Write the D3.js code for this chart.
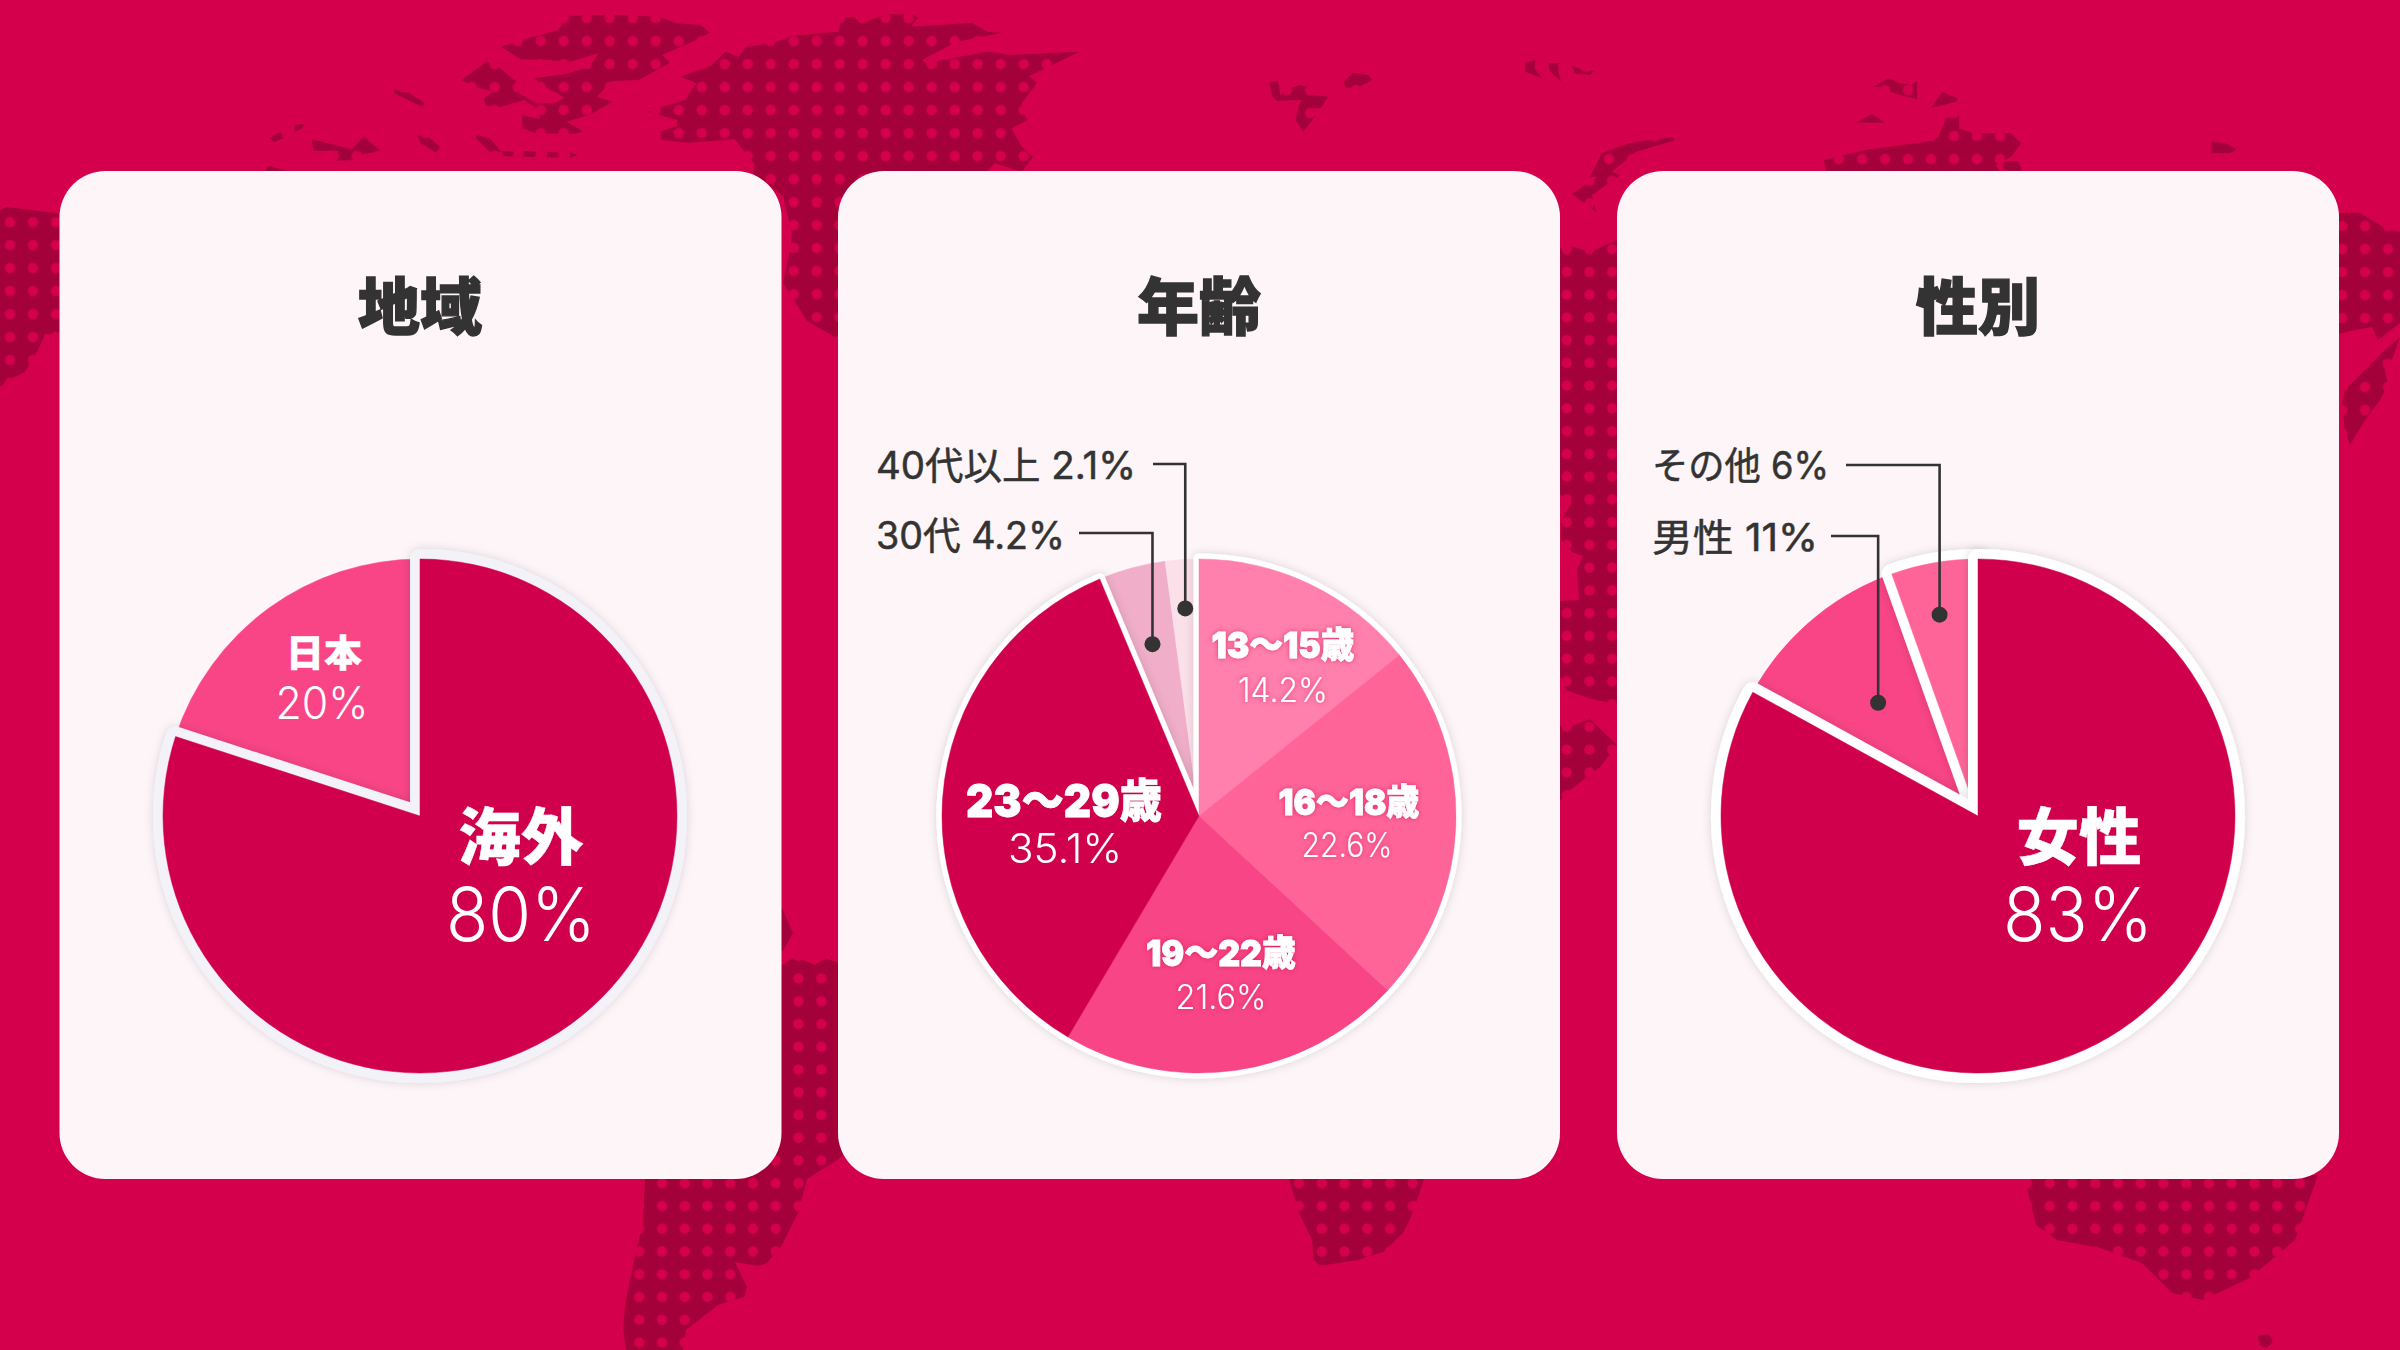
<!DOCTYPE html>
<html lang="ja"><head><meta charset="utf-8">
<script src="https://cdn.jsdelivr.net/npm/d3@7/dist/d3.min.js"></script>
<style>
html,body{margin:0;padding:0;background:#d4004c}
svg{display:block}
text{font-family:"Noto Sans CJK JP","Noto Sans",sans-serif}
text.latin{font-family:Inter,"Noto Sans CJK JP",sans-serif}
</style></head><body><svg id="c" width="2400" height="1350"></svg>
<script>
// ---------- data ----------
const chartTitles = ["地域", "年齢", "性別"];
const regionLabels = ["海外", "日本"];
const regionValues = [80, 20];
const ageLabels = ["13〜15歳", "16〜18歳", "19〜22歳", "23〜29歳", "30代", "40代以上"];
const ageValues = [14.2, 22.6, 21.6, 35.1, 4.2, 2.1];
const genderLabels = ["女性", "男性", "その他"];
const genderValues = [83, 11, 6];

// ---------- styles / layout ----------
const BG = "#d4004c", LAND = "#a40039", PANEL = "#fdf5f8", INK = "#333333";
const regionColors = ["#d1004c", "#f94585"];
const ageColors = ["#ff80ac", "#ff6499", "#f84585", "#d1004c", "#f0aec8", "#fbdfe9"];
const genderColors = ["#d1004c", "#f94585", "#ff6499"];
const panelX = [59.5, 838, 1617], panelW = 722, panelY = 171, panelH = 1008;
const centerX = [420, 1199, 1978], centerY = 816, R = 257;

const charts = [
  {labels: regionLabels, values: regionValues, colors: regionColors, strokeColor: "#f2f2f8", strokeOut: 10, groups: [[0, 0, 0]],
   inside: [
     {i: 0, name: [101, 44, 62, 125], pct: [101, 125, 74, 150]},
     {i: 1, name: [-96, -149, 37, 76], pct: [-98, -97, 45, 93]}]},
  {labels: ageLabels, values: ageValues, colors: ageColors, strokeColor: "#ffffff", strokeOut: 5.5, groups: [[0, 3, 0]], shadow: true,
   inside: [
     {i: 0, name: [84, -158, 36, 143], pct: [84, -114, 34, 90]},
     {i: 1, name: [150, -1, 36, 141], pct: [148, 41, 34, 91]},
     {i: 2, name: [22, 150, 36, 150], pct: [22, 193, 34, 91]},
     {i: 3, name: [-135, 1, 46, 196], pct: [-134, 47, 41, 114]}],
   callouts: [
     {i: 4, r: 178, textX: 876, textY: 549, textW: 189, lineX: 1079, lineY: 533},
     {i: 5, r: 208, textX: 876, textY: 479, textW: 260, lineX: 1153, lineY: 464}]},
  {labels: genderLabels, values: genderValues, colors: genderColors, strokeColor: "#ffffff", strokeOut: 10, groups: [[2, 2, 2], [0, 0, 0]],
   inside: [
     {i: 0, name: [101, 44, 62, 125], pct: [100, 125, 74, 150]}],
   callouts: [
     {i: 1, r: 151, textX: 1652, textY: 551, textW: 166, lineX: 1831, lineY: 536},
     {i: 2, r: 205, textX: 1652, textY: 479, textW: 177, lineX: 1846, lineY: 465}]}
];

// ---------- decorative world map: outlines ----------
const tz = (ox, oy, fx, fy) => pts => pts.map(([x, y]) => [ox + x / fx, oy + y / fy]);
const z7 = tz(0, 0, 1.3067, 3), z6 = tz(1200, 0, 1.3067, 3);
const land = [
  ["top", z7([[740,48],[800,44],[860,50],[885,70],[915,75],[928,98],[905,125],[865,165],[875,188],[835,240],[800,243],[780,290],[800,305],[770,345],[740,365],[763,395],[750,402],[700,400],[683,385],[682,345],[705,358],[705,330],[685,300],[655,320],[635,318],[632,295],[645,275],[622,262],[603,240],[636,185],[650,198],[675,245],[675,275],[700,310],[725,310],[738,292],[712,260],[698,235],[740,222],[770,200],[782,160],[745,185],[715,180],[680,178],[655,140],[690,115],[730,90]])],
  ["top", z7([[515,268],[535,280],[555,310],[553,322],[515,280]])],
  ["top", z7([[385,375],[397,372],[395,385],[385,395]])],
  ["top", z7([[352,415],[367,395],[370,415],[358,427]])],
  ["top", z7([[407,418],[460,448],[475,410],[497,452],[470,465],[460,480],[440,482],[442,452],[410,452]])],
  ["top", z7([[545,405],[562,415],[575,440],[570,458],[550,430]])],
  ["top", z7([[622,405],[640,415],[655,455],[640,455],[622,415]])],
  ["top", z7([[655,453],[672,455],[672,470],[658,468]])],
  ["top", z7([[684,453],[700,455],[700,472],[684,470]])],
  ["top", z7([[715,456],[730,458],[730,473],[715,472]])],
  ["top", z7([[745,458],[755,465],[745,474]])],
  ["top", z7([[345,525],[350,497],[395,525]])],
  ["top", [...z7([[1100,55],[1115,50],[1125,70],[1160,42],[1195,45],[1200,55],[1190,80],[1270,68],[1290,95],[1310,98],[1250,125],[1205,180],[1210,190],[1290,155],[1320,165],[1410,155],[1380,190],[1345,228],[1355,250],[1335,310],[1342,360],[1322,385],[1335,440],[1350,470],[1335,515],[1300,490],[1285,525]]),
     [880,300],[845,343],[807,321],[795,302],[783,283],[790,250],[792,234],[783,196],[775,190],[754,175],
     ...z7([[985,490],[960,418],[900,428],[865,420],[862,395],[885,378],[885,360],[845,335],[895,300],[910,250],[890,230],[930,195],[948,155],[965,170],[975,140],[1010,130],[1035,108],[1095,95]])]],
  ["bot", [[645,1179],[643,1223],[637,1247],[626,1300],[623,1327],[626,1350],[683,1350],[686,1330],[718,1305],[744,1297],[747,1287],[735,1262],[758,1266],[767,1263],[781,1247],[798,1213],[807,1179],[850,1152],[845,965],[825,958],[815,965],[795,957],[782,965],[640,1000]]],
  ["bot", [[660,900],[782,908],[793,933],[783,951],[660,980]]],
  ["bot", tz(560,1100,1.742,3)([[1268,225],[1280,295],[1285,330],[1310,420],[1313,480],[1325,497],[1390,480],[1435,455],[1470,395],[1480,360],[1495,290],[1507,225]])],
  ["bot", [[2024,1175],[2036,1225],[2057,1240],[2100,1248],[2142,1263],[2172,1293],[2203,1300],[2250,1278],[2295,1240],[2318,1175]]],
  ["bot", [[2258,1336],[2268,1334],[2274,1342],[2266,1348],[2258,1344]]],
  ["mid", [[1608,170],[1572,194],[1596,212],[1592,195],[1620,175]]],
  ["mid", [[1540,252],[1570,246],[1590,252],[1617,240],[1640,240],[1640,710],[1617,705],[1585,697],[1566,690],[1561,678],[1540,678],[1540,602],[1579,600],[1577,570],[1583,556],[1572,552],[1561,540],[1561,520],[1572,503],[1561,495],[1540,495]]],
  ["mid", [[1540,724],[1570,727],[1590,719],[1617,745],[1600,767],[1570,790],[1561,800],[1540,800]]],
  ["asia", z6([[90,248],[102,243],[105,285],[118,265],[130,256],[145,262],[148,285],[167,290],[158,325],[148,325],[150,350],[135,395],[125,360],[128,325],[133,300],[100,302],[95,290]])],
  ["asia", z6([[200,218],[220,225],[225,240],[205,265],[190,262],[188,245]])],
  ["asia", z6([[425,190],[438,180],[438,205],[447,235],[425,215]])],
  ["asia", z6([[455,190],[475,188],[468,215],[472,245],[458,215]])],
  ["asia", z6([[485,195],[500,210],[515,212],[510,225],[490,220]])],
  ["asia", z6([[880,260],[900,235],[915,250],[930,255],[937,243],[937,298],[900,275],[895,260]])],
  ["asia", z6([[955,325],[970,277],[990,295],[988,305]])],
  ["asia", z6([[857,368],[878,342],[895,368]])],
  ["asia", z6([[1322,425],[1340,430],[1355,448],[1345,460],[1322,460]])],
  ["asia", z6([[510,530],[525,460],[560,430],[620,410],[622,420],[570,455],[530,530]])],
  ["asia", z6([[815,480],[870,450],[950,425],[965,410],[975,355],[992,348],[992,385],[1010,400],[1060,400],[1073,430],[1060,470],[1040,495],[1050,530],[820,530]])],
  ["asia", z6([[1050,485],[1070,483],[1075,525],[1050,508]])],
  ["left", [[0,210],[7,207],[70,215],[70,335],[45,334],[38,350],[25,372],[8,380],[0,387]]],
  ["right", [[2330,213],[2360,213],[2375,222],[2385,228],[2400,232],[2400,323],[2378,340],[2372,327],[2355,330],[2330,336]]],
  ["right", [[2400,337],[2392,360],[2383,360],[2388,385],[2380,400],[2365,420],[2350,445],[2345,430],[2342,405],[2345,390],[2365,370],[2385,350]]]
];
const gridDefs = {
  top:  {x: 724.7,  y: 41,    s: 23},
  mid:  {x: 1566.7, y: 271.8, s: 22.75},
  bot:  {x: 662,    y: 978.4, s: 22.75},
  asia: {x: 1839,   y: 159,   s: 23},
  left: {x: 10,     y: 222,   s: 23},
  right:{x: 2365,   y: 226,   s: 23}
};

// ---------- drawing ----------
const svg = d3.select("#c");
const defs = svg.append("defs");
Object.entries(gridDefs).forEach(([id, g]) => {
  const p = defs.append("pattern").attr("id", "dots-" + id).attr("patternUnits", "userSpaceOnUse")
    .attr("x", g.x - g.s / 2).attr("y", g.y - g.s / 2).attr("width", g.s).attr("height", g.s);
  p.append("rect").attr("width", g.s).attr("height", g.s).attr("fill", LAND);
  p.append("circle").attr("cx", g.s / 2).attr("cy", g.s / 2).attr("r", 5.2).attr("fill", BG);
});
const soft = defs.append("filter").attr("id", "soft").attr("x", "-20%").attr("y", "-20%").attr("width", "140%").attr("height", "140%");
soft.append("feDropShadow").attr("dx", 0).attr("dy", 0).attr("stdDeviation", 5).attr("flood-color", "#000").attr("flood-opacity", 0.14);
const glow = defs.append("filter").attr("id", "glow").attr("x", "-20%").attr("y", "-40%").attr("width", "140%").attr("height", "180%");
glow.append("feDropShadow").attr("dx", 0).attr("dy", 0).attr("stdDeviation", 2.5).attr("flood-color", "#c8004a").attr("flood-opacity", 0.55);

svg.append("rect").attr("width", 2400).attr("height", 1350).attr("fill", BG);
const landLine = d3.line().curve(d3.curveLinearClosed);
svg.append("g").selectAll("path").data(land).join("path")
  .attr("d", d => landLine(d[1])).attr("fill", d => `url(#dots-${d[0]})`);

svg.append("g").selectAll("rect").data(panelX).join("rect")
  .attr("x", d => d).attr("y", panelY).attr("width", panelW).attr("height", panelH)
  .attr("rx", 46).attr("ry", 46).attr("fill", PANEL);

const pie = d3.pie().sort(null).value(d => d);
const arc = d3.arc().innerRadius(0).outerRadius(R);
const deg = Math.PI / 180;

function fitText(g, str, x, y, size, width, weight, fill, cls) {
  const t = g.append("text").attr("x", x).attr("y", y).attr("text-anchor", "middle")
    .attr("font-size", size).attr("font-weight", weight).attr("fill", fill).text(str);
  if (width) t.attr("textLength", width).attr("lengthAdjust", "spacingAndGlyphs");
  if (cls) t.attr("class", cls);
  return t;
}

charts.forEach((c, ci) => {
  const cx = centerX[ci], cy = centerY;
  const arcs = pie(c.values);
  const g = svg.append("g").attr("transform", `translate(${cx},${cy})`);

  const grouped = new Set();
  c.groups.forEach(([a, b]) => d3.range(a, b + 1).forEach(i => grouped.add(i)));
  const drawSlices = (idx, inset = 0) => g.selectAll(null)
    .data(idx.map((i, k) => k === 0 ? {...arcs[i], startAngle: arcs[i].startAngle + inset * deg} : arcs[i])).join("path")
    .attr("d", arc).attr("fill", d => c.colors[d.index]).attr("stroke", d => c.colors[d.index]).attr("stroke-width", 0.5);

  drawSlices(arcs.map(d => d.index).filter(i => !grouped.has(i)));
  c.groups.forEach(([a, b, inset]) => {
    g.append("path").attr("d", arc({startAngle: arcs[a].startAngle + inset * deg, endAngle: arcs[b].endAngle}))
      .attr("fill", c.strokeColor).attr("stroke", c.strokeColor).attr("stroke-width", c.strokeOut * 2)
      .attr("stroke-linejoin", "round").attr("filter", "url(#soft)");
    drawSlices(d3.range(a, b + 1), inset);
  });

  // title
  fitText(svg, chartTitles[ci], cx, 330, 62, 124, 900, INK).attr("stroke", INK).attr("stroke-width", 1.4);

  // labels inside the slices
  c.inside.forEach(l => {
    const lab = svg.append("g").attr("transform", `translate(${cx},${cy})`);
    if (c.shadow) lab.attr("filter", "url(#glow)");
    const [nx, ny, ns, nw] = l.name, [px, py, ps, pw] = l.pct;
    fitText(lab, c.labels[l.i], nx, ny, ns, nw, 900, "#fff", /\d/.test(c.labels[l.i]) ? "latin" : null)
      .attr("stroke", "#fff").attr("stroke-width", c.shadow ? 0.8 : 0.4);
    fitText(lab, c.values[l.i] + "%", px, py, ps, pw, 350, "#fff", "latin");
  });

  // leader lines
  (c.callouts || []).forEach(l => {
    const [dx, dy] = d3.arc().innerRadius(l.r).outerRadius(l.r).centroid(arcs[l.i]);
    const px = cx + dx, py = cy + dy;
    svg.append("path").attr("fill", "none").attr("stroke", INK).attr("stroke-width", 2.6)
      .attr("d", d3.line()([[l.lineX, l.lineY], [px, l.lineY], [px, py]]));
    svg.append("circle").attr("cx", px).attr("cy", py).attr("r", 8).attr("fill", INK);
    svg.append("text").attr("class", "latin").attr("x", l.textX).attr("y", l.textY).attr("font-size", 38).attr("font-weight", 400)
      .attr("fill", INK).attr("stroke", INK).attr("stroke-width", 0.5)
      .attr("textLength", l.textW).attr("lengthAdjust", "spacingAndGlyphs")
      .text(c.labels[l.i] + " " + c.values[l.i] + "%");
  });
});
</script></body></html>
